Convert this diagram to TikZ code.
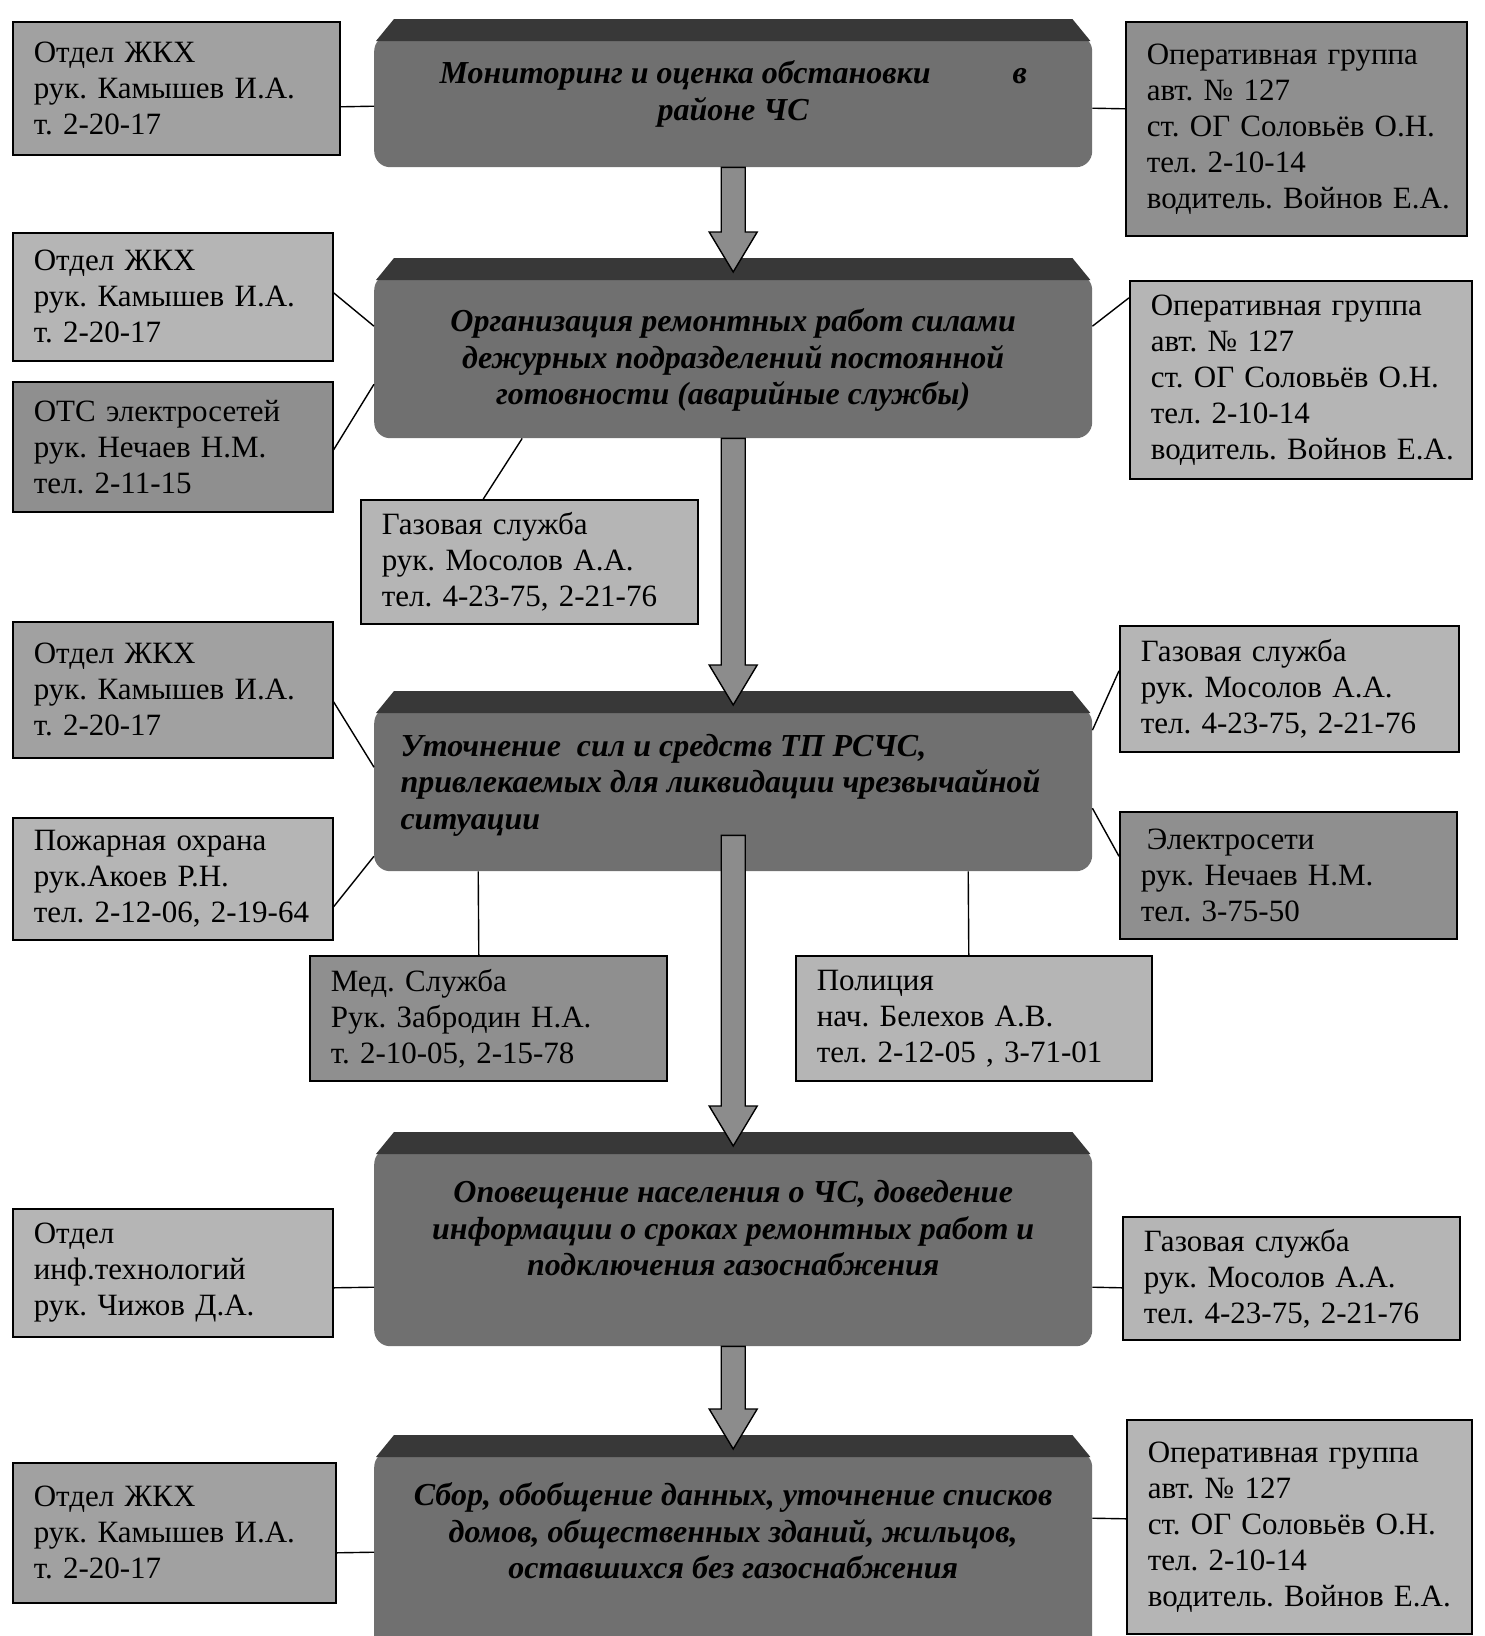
\documentclass[tikz,border=0pt]{standalone}
\usepackage{fontspec}
\setmainfont{Liberation Serif}
\usetikzlibrary{calc}
\frenchspacing

\definecolor{boxlight}{gray}{0.71}
\definecolor{boxmid}{gray}{0.63}
\definecolor{boxdark}{gray}{0.56}
\definecolor{mainbody}{gray}{0.44}
\definecolor{mainband}{gray}{0.22}
\definecolor{arrowfill}{gray}{0.55}

\tikzset{
  infobox/.style={draw=black, line width=1.6pt, fill=#1, anchor=north west,
    align=left, inner xsep=21pt, inner ysep=0pt,
    font=\fontsize{31}{36}\selectfont},
  mainbox/.style={fill=mainbody, rounded corners=16pt, anchor=north west,
    minimum width=718pt, inner sep=0pt},
  maintext/.style={font=\fontsize{32}{36.5}\selectfont\bfseries\itshape, align=center},
  bevel/.style={fill=mainband},
  fatarrow/.style={draw=black, line width=1.4pt, fill=arrowfill, line join=miter},
  link/.style={draw=black, line width=1.4pt}
}

\begin{document}
\begin{tikzpicture}[x=1pt, y=-1pt]
    \useasboundingbox (0,0) rectangle (1484,1636);
    \clip (0,0) rectangle (1484,1636);

    % main steps
    \node[mainbox, minimum height=132pt] (m1) at (374,35) {};
    \node[mainbox, minimum height=164pt] (m2) at (374,274) {};
    \node[mainbox, minimum height=164pt] (m3) at (374,707) {};
    \node[mainbox, minimum height=198pt] (m4) at (374,1148) {};
    \node[mainbox, minimum height=229pt] (m5) at (374,1451) {};

    \foreach \m in {m1,m2,m3,m4,m5}
        \fill[bevel] ($(\m.north west)+(2,6)$) -- ($(\m.north west)+(20,-16)$)
            -- ($(\m.north east)+(-20,-16)$) -- ($(\m.north east)+(-2,6)$) -- cycle;

    \node[maintext] (m1t) at ([yshift=7pt]m1.center)
        {Мониторинг и оценка обстановки\hspace{82pt}в\\районе ЧС};
    \node[maintext] (m2t) at ([yshift=-4pt]m2.center)
        {Организация ремонтных работ силами\\дежурных подразделений постоянной\\готовности (аварийные службы)};
    \node[maintext, align=left, anchor=west] (m3t) at ([xshift=23pt,yshift=4pt]m3.west)
        {Уточнение\ \ сил и средств ТП РСЧС,\\привлекаемых для ликвидации чрезвычайной\\ситуации};
    \node[maintext] (m4t) at ([yshift=19pt]m4.center)
        {Оповещение населения о ЧС, доведение\\информации о сроках ремонтных работ и\\подключения газоснабжения};
    \node[maintext] (m5t) at ([yshift=-80pt]m5.north)
        {Сбор, обобщение данных, уточнение списков\\домов, общественных зданий, жильцов,\\оставшихся без газоснабжения};

    % arrows between steps
    \foreach \a/\b/\s in {m1/m2/0, m2/m3/0, m3/m4/36, m4/m5/0}
        \draw[fatarrow] ($(\a.south)+(-12,-\s)$) -- ($(\b.north)+(-12,-42)$)
            -- ($(\b.north)+(-24,-42)$) -- ($(\b.north)+(0,-2)$)
            -- ($(\b.north)+(24,-42)$) -- ($(\b.north)+(12,-42)$)
            -- ($(\a.south)+(12,-\s)$) -- cycle;

    % services
    \node[infobox=boxmid, text width=285pt, minimum height=133pt] (l1) at (12,21)
        {Отдел ЖКХ\\рук. Камышев И.А.\\т. 2-20-17};
    \node[infobox=boxdark, text width=299pt, minimum height=214pt] (r1) at (1125,21)
        {Оперативная группа\\авт. № 127\\ст. ОГ Соловьёв О.Н.\\тел. 2-10-14\\\mbox{водитель. Войнов Е.А.}};

    \node[infobox=boxlight, text width=278pt, minimum height=128pt] (l2a) at (12,232)
        {Отдел ЖКХ\\рук. Камышев И.А.\\т. 2-20-17};
    \node[infobox=boxdark, text width=278pt, minimum height=130pt] (l2b) at (12,381)
        {ОТС электросетей\\рук. Нечаев Н.М.\\тел. 2-11-15};
    \node[infobox=boxlight, text width=295pt, minimum height=124pt] (g2) at (360,499)
        {Газовая служба\\рук. Мосолов А.А.\\тел. 4-23-75, 2-21-76};
    \node[infobox=boxlight, text width=300pt, minimum height=198pt] (r2) at (1129,280)
        {Оперативная группа\\авт. № 127\\ст. ОГ Соловьёв О.Н.\\тел. 2-10-14\\\mbox{водитель. Войнов Е.А.}};

    \node[infobox=boxmid, text width=278pt, minimum height=136pt] (l3a) at (12,621)
        {Отдел ЖКХ\\рук. Камышев И.А.\\т. 2-20-17};
    \node[infobox=boxlight, text width=278pt, minimum height=122pt] (l3b) at (12,817)
        {Пожарная охрана\\рук.Акоев Р.Н.\\тел. 2-12-06, 2-19-64};
    \node[infobox=boxlight, text width=297pt, minimum height=126pt] (r3a) at (1119,625)
        {Газовая служба\\рук. Мосолов А.А.\\тел. 4-23-75, 2-21-76};
    \node[infobox=boxdark, text width=295pt, minimum height=127pt] (r3b) at (1119,811)
        {\hspace*{6pt}Электросети\\рук. Нечаев Н.М.\\тел. 3-75-50};
    \node[infobox=boxdark, text width=315pt, minimum height=125pt] (med) at (309,955)
        {Мед. Служба\\Рук. Забродин Н.А.\\т. 2-10-05, 2-15-78};
    \node[infobox=boxlight, text width=314pt, minimum height=125pt] (police) at (795,955)
        {Полиция\\нач. Белехов А.В.\\тел. 2-12-05 , 3-71-01};

    \node[infobox=boxlight, text width=278pt, minimum height=128pt] (l4) at (12,1208)
        {Отдел\\инф.технологий\\рук. Чижов Д.А.};
    \node[infobox=boxlight, text width=295pt, minimum height=123pt] (r4) at (1122,1216)
        {Газовая служба\\рук. Мосолов А.А.\\тел. 4-23-75, 2-21-76};

    \node[infobox=boxmid, text width=281pt, minimum height=140pt] (l5) at (12,1462)
        {Отдел ЖКХ\\рук. Камышев И.А.\\т. 2-20-17};
    \node[infobox=boxlight, text width=303pt, minimum height=214pt] (r5) at (1126,1419)
        {Оперативная группа\\авт. № 127\\ст. ОГ Соловьёв О.Н.\\тел. 2-10-14\\\mbox{водитель. Войнов Е.А.}};

    % links
    \draw[link] ([yshift=-18.5pt]l1.east) -- ([yshift=-5pt]m1.west);
    \draw[link] ([yshift=-7pt]m1.east) -- ([yshift=20pt]r1.west);
    \draw[link] ([yshift=4pt]l2a.east) -- ([yshift=30pt]m2.west);
    \draw[link] ([yshift=-3pt]l2b.east) -- ([yshift=-28pt]m2.west);
    \draw[link] ([xshift=-211pt]m2.south) -- ([xshift=-46pt]g2.north);
    \draw[link] ([yshift=30pt]m2.east) -- ([yshift=82pt]r2.west);
    \draw[link] ([yshift=-12pt]l3a.east) -- ([yshift=22pt]m3.west);
    \draw[link] ([yshift=-28pt]l3b.east) -- ([yshift=-67pt]m3.west);
    \draw[link] ([yshift=59pt]m3.east) -- ([yshift=18pt]r3a.west);
    \draw[link] ([yshift=-19pt]m3.east) -- ([yshift=19pt]r3b.west);
    \draw[link] ([xshift=-255pt]m3.south) -- ([xshift=-9.5pt]med.north);
    \draw[link] ([xshift=235pt]m3.south) -- ([xshift=-5pt]police.north);
    \draw[link] ([yshift=-15pt]l4.east) -- ([yshift=-40pt]m4.west);
    \draw[link] ([yshift=-40pt]m4.east) -- ([yshift=-9.5pt]r4.west);
    \draw[link] ([yshift=-20pt]l5.east) -- ([yshift=13.5pt]m5.west);
    \draw[link] ([yshift=47.5pt]m5.east) -- ([yshift=8pt]r5.west);
\end{tikzpicture}
\end{document}
